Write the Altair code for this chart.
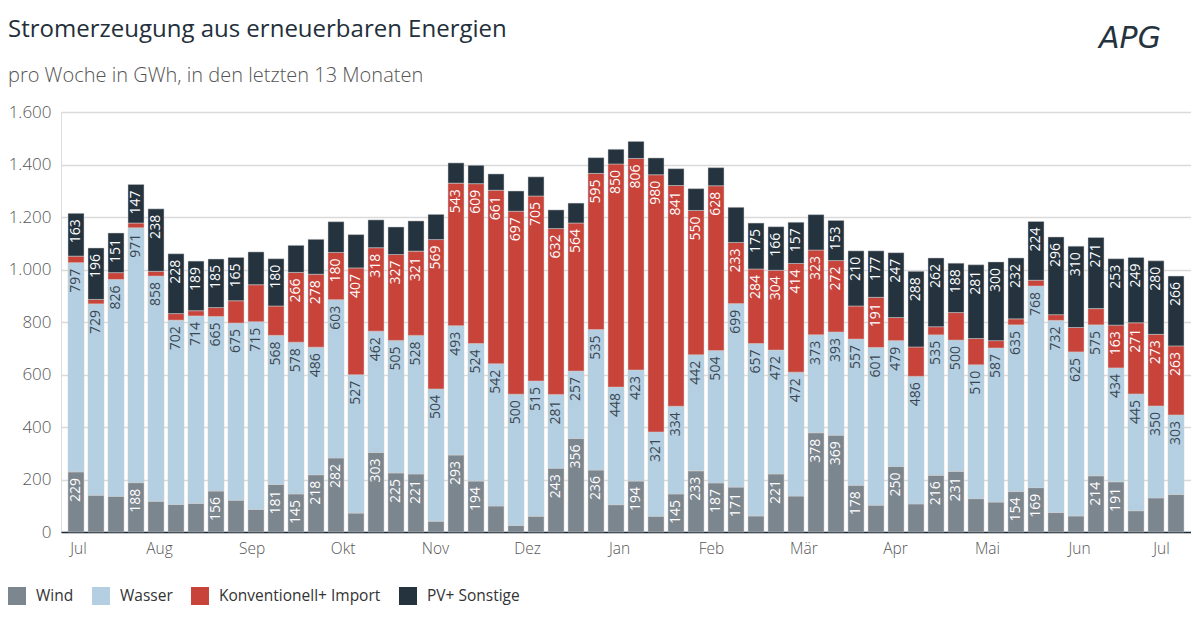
import json
import altair as alt
import pandas as pd

# ---- data (GWh per week) ----
categories = ["Wind", "Wasser", "Konventionell+ Import", "PV+ Sonstige"]
colors = ["#7c868f", "#b4cfe1", "#c8443b", "#25333f"]

wind = [229, 140, 136, 188, 117, 105, 109, 156, 121, 86, 181, 145, 218, 282, 72, 303, 225, 221, 41, 293,
        194, 99, 25, 60, 243, 356, 236, 104, 194, 60, 145, 233, 187, 171, 61, 221, 137, 378, 369, 178,
        102, 250, 107, 216, 231, 127, 114, 154, 169, 74, 61, 214, 191, 81, 130, 143]
wasser = [797, 729, 826, 971, 858, 702, 714, 665, 675, 715, 568, 578, 486, 603, 527, 462, 505, 528, 504, 493,
          524, 542, 500, 515, 281, 257, 535, 448, 423, 321, 334, 442, 504, 699, 657, 472, 472, 373, 393, 557,
          601, 479, 486, 535, 500, 510, 587, 635, 768, 732, 625, 575, 434, 445, 350, 303]
konv = [25, 17, 26, 18, 18, 25, 20, 34, 85, 141, 112, 266, 278, 180, 407, 318, 327, 321, 569, 543,
        609, 661, 697, 705, 632, 564, 595, 850, 806, 980, 841, 550, 628, 233, 284, 304, 414, 323, 272, 126,
        191, 88, 112, 31, 105, 100, 28, 23, 22, 22, 93, 62, 163, 271, 273, 263]
pv = [163, 196, 151, 147, 238, 228, 189, 185, 165, 125, 180, 103, 133, 117, 127, 106, 105, 115, 96, 77,
      70, 62, 77, 73, 71, 76, 60, 56, 65, 64, 64, 83, 69, 134, 175, 166, 157, 135, 153, 210,
      177, 247, 288, 262, 188, 281, 300, 232, 224, 296, 310, 271, 253, 249, 280, 266]

month_names = ["Jul", "Aug", "Sep", "Okt", "Nov", "Dez", "Jan", "Feb", "Mär", "Apr", "Mai", "Jun", "Jul"]
month_pos = [0.1, 4.15, 8.78, 13.33, 17.95, 22.55, 27.15, 31.75, 36.37, 40.95, 45.55, 50.15, 54.25]

y_ticks = [0, 200, 400, 600, 800, 1000, 1200, 1400, 1600]

# ---- long table ----
rows = []
for cat_i, (cat, series) in enumerate(zip(categories, [wind, wasser, konv, pv])):
    for w, v in enumerate(series):
        rows.append({"week": w, "cat": cat, "order": cat_i, "value": v})
df = pd.DataFrame(rows)

FONT = "Open Sans"

base = alt.Chart(df).transform_stack(
    stack="value",
    groupby=["week"],
    sort=[alt.SortField("order", order="ascending")],
    as_=["y0", "y1"],
)

x_enc = alt.X(
    "week:Q",
    scale=alt.Scale(domain=[-0.5, 55.5], nice=False, zero=False),
    axis=alt.Axis(
        title=None,
        values=month_pos,
        labelExpr=f"{json.dumps(month_names)}[indexof({json.dumps(month_pos)}, datum.value)]",
        ticks=False,
        grid=False,
        domainColor="#1c2a38",
        domainWidth=1.5,
        labelFontSize=15.5,
        labelColor="#555555",
        labelPadding=9,
        labelFont=FONT,
        labelFontWeight=300,
    ),
)

bars = base.mark_bar(width=16, stroke="#cfcfcf", strokeWidth=0.5).encode(
    x=x_enc,
    y=alt.Y(
        "y1:Q",
        scale=alt.Scale(domain=[0, 1600], nice=False),
        axis=alt.Axis(
            title=None,
            values=y_ticks,
            labelExpr="replace(format(datum.value, ','), ',', '.')",
            ticks=False,
            domain=False,
            gridColor="#dadada",
            gridWidth=1.5,
            labelFontSize=17,
            labelColor="#555555",
            labelPadding=10,
            labelFont=FONT,
            labelFontWeight=300,
        ),
    ),
    y2="y0:Q",
    color=alt.Color(
        "cat:N",
        scale=alt.Scale(domain=categories, range=colors),
        legend=alt.Legend(
            title=None,
            orient="none",
            legendX=-53,
            legendY=475,
            direction="horizontal",
            symbolType="square",
            symbolSize=324,
            symbolStrokeWidth=0,
            symbolOpacity=1,
            labelFontSize=15.5,
            labelColor="#333333",
            labelFont=FONT,
            labelOffset=10,
            labelLimit=400,
            columnPadding=18,
        ),
    ),
    order=alt.Order("order:Q"),
)

labels = base.transform_filter(alt.datum.value >= 145).mark_text(
    angle=270, align="right", baseline="middle", dx=-6, fontSize=14, font=FONT
).encode(
    x="week:Q",
    y="y1:Q",
    text="value:Q",
    color=alt.condition(alt.datum.cat == "Wasser", alt.value("#3a4652"), alt.value("#ffffff")),
)

logo = alt.Chart(pd.DataFrame({"t": ["APG"]})).mark_text(
    fontSize=30, fontStyle="italic", fontWeight="normal", font="DejaVu Sans", color="#25333f",
    baseline="middle",
).encode(text="t:N", x=alt.value(1069), y=alt.value(-73))

chart = alt.layer(bars, labels, logo).properties(
    width=1130,
    height=420,
    padding={"left": 0, "top": 10, "right": 0, "bottom": 0},
    title=alt.TitleParams(
        text="Stromerzeugung aus erneuerbaren Energien",
        subtitle="pro Woche in GWh, in den letzten 13 Monaten",
        anchor="start",
        frame="bounds",
        font=FONT,
        fontSize=24,
        fontWeight="normal",
        color="#232f3a",
        subtitleFont=FONT,
        subtitleFontSize=20,
        subtitleFontWeight=300,
        subtitleColor="#555555",
        subtitlePadding=24,
        offset=-62,
    ),
).configure_view(stroke=None).configure(background="white")

chart.save("out.html", embed_options={"renderer": "svg", "actions": False})
